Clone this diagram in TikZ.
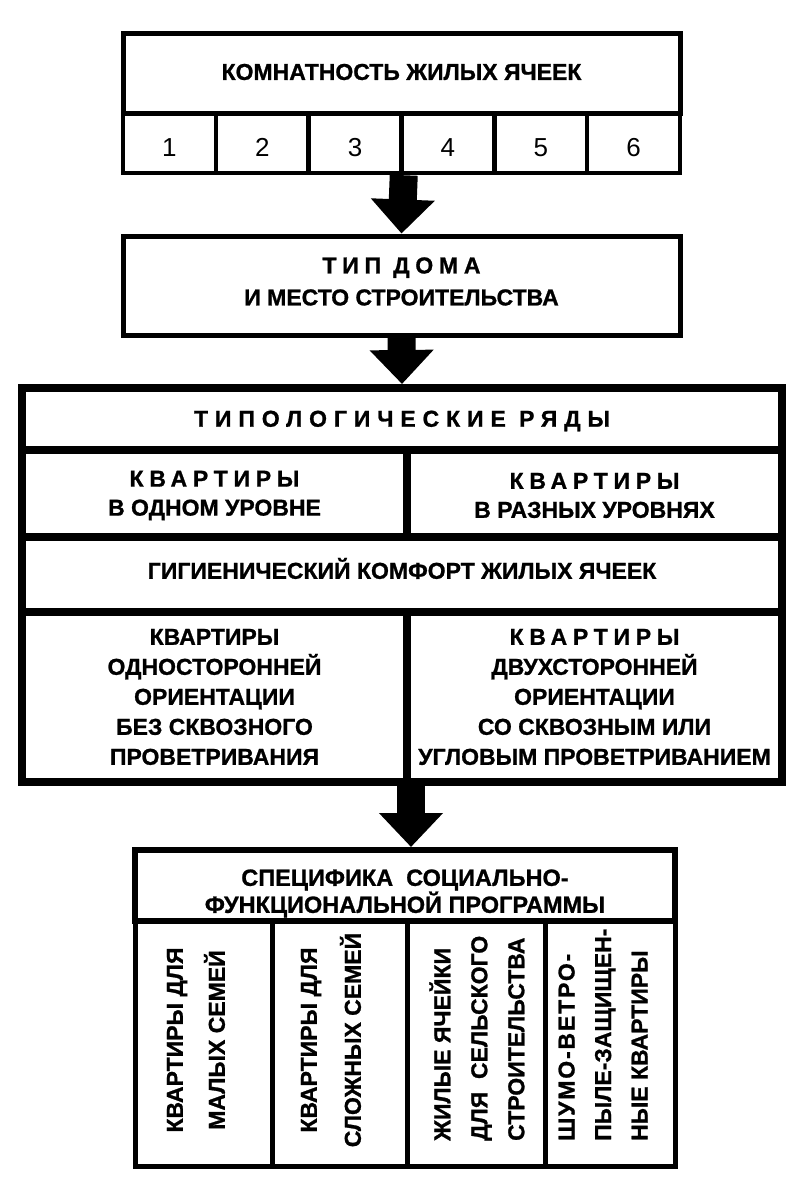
\documentclass[tikz,border=0pt]{standalone}
\usepackage{fontspec}
\setmainfont{Liberation Sans}[BoldFeatures={FakeBold=1}]
\usetikzlibrary{arrows.meta}
\newcommand{\spc}[2][25]{{\addfontfeature{LetterSpace=#1}#2}}
\begin{document}
\begin{tikzpicture}[x=1pt,y=-1pt,
  cell/.style={draw, rectangle, inner sep=0pt},
  txt/.style={inner sep=0pt, align=center, font=\bfseries\fontsize{23}{30}\selectfont},
  fA/.style={line width=5pt},
  fB/.style={line width=8pt},
  vtxt/.style={rotate=90, inner sep=0pt, align=center},
  bigarrow/.style={line width=28pt, -{Triangle[width=62pt,length=34pt]}}
]
\useasboundingbox[fill=white] (0,0) rectangle (802,1180);
% top box
\node[cell, fA, minimum width=557pt, minimum height=80pt] (top) at (401.5,74) {};
\node[txt, yshift=2pt] (ttop) at (top) {КОМНАТНОСТЬ ЖИЛЫХ ЯЧЕЕК};
\foreach \i in {1,...,6}{
  \node[cell, line width=4.5pt, minimum width=92.83pt, minimum height=59pt] (n\i) at ({123+92.83*(\i-0.5)},143.5) {};
  \node[inner sep=0pt, font=\fontsize{26}{30}\selectfont, yshift=-4pt] (d\i) at (n\i) {\i};
}
% house type
\node[cell, fA, minimum width=557pt, minimum height=99pt] (dom) at (401.5,285.5) {};
\node[txt, font=\bfseries\fontsize{23}{32}\selectfont, yshift=4pt] (tdom) at (dom) {\spc{ТИП ДОМА}\\И МЕСТО СТРОИТЕЛЬСТВА};
% big box
\node[cell, fB, minimum width=760pt, minimum height=62pt] (typ) at (402,419) {};
\node[txt, yshift=-2pt] (ttyp) at (typ) {\spc[30]{ТИПОЛОГИЧЕСКИЕ РЯДЫ}};
\node[cell, fB, minimum width=385pt, minimum height=87pt] (kv1) at (214.5,493.5) {};
\node[cell, fB, minimum width=375pt, minimum height=87pt] (kv2) at (594.5,493.5) {};
\node[txt, font=\bfseries\fontsize{23}{29}\selectfont, yshift=-2pt] (tkv1) at (kv1) {\spc{КВАРТИРЫ}\\В ОДНОМ УРОВНЕ};
\node[txt, font=\bfseries\fontsize{23}{29}\selectfont, yshift=-2pt] (tkv2) at (kv2) {\spc{КВАРТИРЫ}\\В РАЗНЫХ УРОВНЯХ};
\node[cell, fB, minimum width=760pt, minimum height=75pt] (gig) at (402,574.5) {};
\node[txt, yshift=6pt] (tgig) at (gig) {ГИГИЕНИЧЕСКИЙ КОМФОРТ ЖИЛЫХ ЯЧЕЕК};
\node[cell, fB, minimum width=385pt, minimum height=170pt] (or1) at (214.5,697) {};
\node[cell, fB, minimum width=375pt, minimum height=170pt] (or2) at (594.5,697) {};
\node[txt] (tor1) at (or1) {КВАРТИРЫ\\ОДНОСТОРОННЕЙ\\ОРИЕНТАЦИИ\\БЕЗ СКВОЗНОГО\\ПРОВЕТРИВАНИЯ};
\node[txt] (tor2) at (or2) {\spc{КВАРТИРЫ}\\ДВУХСТОРОННЕЙ\\ОРИЕНТАЦИИ\\СО СКВОЗНЫМ ИЛИ\\УГЛОВЫМ ПРОВЕТРИВАНИЕМ};
% bottom box
\node[cell, line width=6pt, minimum width=540pt, minimum height=71pt] (spec) at (405,885.5) {};
\node[txt, font=\bfseries\fontsize{23.5}{27}\selectfont, yshift=-8pt] (tspec) at (spec) {СПЕЦИФИКА\ \ СОЦИАЛЬНО-\\ФУНКЦИОНАЛЬНОЙ ПРОГРАММЫ};
\node[cell, fA, minimum width=137pt, minimum height=245pt] (c1) at (203.5,1043.5) {};
\node[cell, fA, minimum width=135pt, minimum height=245pt] (c2) at (339.5,1043.5) {};
\node[cell, fA, minimum width=138pt, minimum height=245pt] (c3) at (476,1043.5) {};
\node[cell, fA, minimum width=130pt, minimum height=245pt] (c4) at (610,1043.5) {};
\node[vtxt, font=\bfseries\fontsize{23}{42}\selectfont] (t1) at (196,1040) {КВАРТИРЫ ДЛЯ\\МАЛЫХ СЕМЕЙ};
\node[vtxt, font=\bfseries\fontsize{23}{44}\selectfont] (t2) at (331,1040) {КВАРТИРЫ ДЛЯ\\СЛОЖНЫХ СЕМЕЙ};
\node[vtxt, anchor=west, align=left, font=\bfseries\fontsize{23}{37}\selectfont] (t3) at (477,1141) {ЖИЛЫЕ ЯЧЕЙКИ\\ДЛЯ\ \ СЕЛЬСКОГО\\СТРОИТЕЛЬСТВА};
\node[vtxt, anchor=west, align=left, font=\bfseries\fontsize{23}{36.5}\selectfont] (t4) at (603,1141) {\spc[8]{ШУМО-ВЕТРО-}\\ПЫЛЕ-ЗАЩИЩЕН-\\НЫЕ КВАРТИРЫ};
% arrows
\draw[bigarrow] (n3.south east) -- (dom.north);
\draw[bigarrow] (dom.south) -- (typ.north);
\draw[bigarrow] (or1.south east) -- (or1.south east |- spec.north);
\end{tikzpicture}
\end{document}
